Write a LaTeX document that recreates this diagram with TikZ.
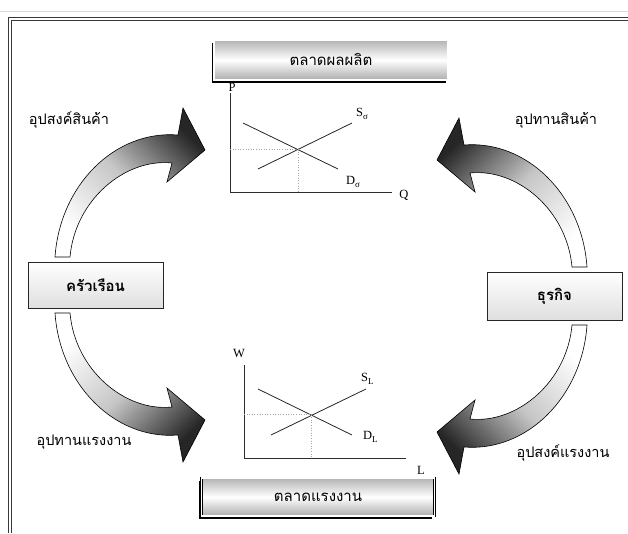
\documentclass[tikz,border=0pt]{standalone}
\usepackage{fontspec}
\setmainfont{Liberation Serif}
\newfontfamily\thai[Script=Thai]{Loma}
\usetikzlibrary{shadows}
\newcommand\bentarrow{(55,257) .. controls (60,185) and (115,130) .. (178,135) -- (183,108) -- (205,150) -- (167,182) -- (172,163) .. controls (125,158) and (75,200) .. (70,257) -- cycle}
\newcommand\subl[1]{\raisebox{-2.5pt}{\fontsize{9}{9}\selectfont #1}}
\begin{document}
\begin{tikzpicture}[x=1pt,y=-1pt,
  lbl/.style={font=\thai\fontsize{14.5}{16}\selectfont, inner sep=0pt},
  mkt/.style={font=\thai\fontsize{15}{17}\selectfont, draw=black, line width=0.7pt,
    double=white, double distance=1.2pt, top color=gray!60, bottom color=gray!65, middle color=white,
    drop shadow={shadow xshift=-2.5pt, shadow yshift=-2.5pt, fill=black, opacity=1},
    inner sep=0pt},
  side/.style={font=\thai\bfseries\fontsize{15}{17}\selectfont, draw=gray!30!black, line width=0.7pt,
    top color=white, bottom color=gray!25, minimum width=135pt, inner sep=0pt},
  arr/.style={draw=black, line width=0.6pt, top color=black!85, bottom color=white, middle color=gray!45},
  axis/.style={draw=gray!35!black, line width=1pt},
  curve/.style={draw=gray!30!black, line width=0.8pt},
  guide/.style={draw=gray!70, dotted, line width=0.6pt},
  axl/.style={font=\fontsize{12.5}{14}\selectfont, inner sep=0pt},
  frame/.style={draw=gray!45!black, line width=0.7pt}]
\useasboundingbox (0,0) rectangle (628,533);
% window frame
\draw[gray!30, line width=0.8pt] (0,11.5) -- (628,11.5);
\draw[frame] (628,17.5) -- (8.5,17.5) -- (8.5,533);
\draw[frame] (628,20.5) -- (11.5,20.5) -- (11.5,533);
% bent arrows
\shade[arr, shading angle=-45] \bentarrow;
\begin{scope}[shift={(0,570)}, yscale=-1]
  \shade[arr, shading angle=-135] \bentarrow;
\end{scope}
\begin{scope}[shift={(642,10)}, xscale=-1]
  \shade[arr, shading angle=45] \bentarrow;
\end{scope}
\begin{scope}[shift={(642,582)}, xscale=-1, yscale=-1]
  \shade[arr, shading angle=135] \bentarrow;
\end{scope}
% market boxes
\node[mkt, minimum width=234pt, minimum height=40pt] (pm) at (331,60) {ตลาดผลผลิต};
\node[mkt, minimum width=233pt, minimum height=38pt] (lm) at (318,497) {ตลาดแรงงาน};
% sectors
\node[side, minimum height=46pt] (hh) at (95.5,285) {ครัวเรือน};
\node[side, minimum height=48pt] (fi) at (554.5,296) {ธุรกิจ};
% flow labels
\node[lbl] (dg) at (69,120) {อุปสงค์สินค้า};
\node[lbl] (sg) at (556,120) {อุปทานสินค้า};
\node[lbl] (sl) at (84,442) {อุปทานแรงงาน};
\node[lbl] (dl) at (563,453) {อุปสงค์แรงงาน};
% goods market chart
\coordinate (o1) at (230,192);
\coordinate (yt1) at (230,93);
\coordinate (xe1) at (392,192);
\coordinate (s1a) at (258,169);
\coordinate (s1b) at (352,123);
\coordinate (d1a) at (243,123);
\coordinate (d1b) at (338,169);
\coordinate (e1) at (298,149.5);
\coordinate (e1y) at (230,149.5);
\coordinate (e1x) at (298,192);
\draw[axis] (yt1) -- (o1) -- (xe1);
\draw[curve] (s1a) -- (s1b);
\draw[curve] (d1a) -- (d1b);
\draw[guide] (e1y) -- (e1) -- (e1x);
\node[axl] (p1) at (232,87) {P};
\node[axl] (q1) at (404,195) {Q};
\node[axl, anchor=west] (sl1) at (356,114) {S\subl{σ}};
\node[axl, anchor=west] (dl1) at (346,182) {D\subl{σ}};
% labour market chart
\coordinate (o2) at (244,458);
\coordinate (yt2) at (244,365);
\coordinate (xe2) at (406,458);
\coordinate (s2a) at (271,435);
\coordinate (s2b) at (366,389);
\coordinate (d2a) at (258,389);
\coordinate (d2b) at (352,435);
\coordinate (e2) at (311,414);
\coordinate (e2y) at (244,414);
\coordinate (e2x) at (311,458);
\draw[axis] (yt2) -- (o2) -- (xe2);
\draw[curve] (s2a) -- (s2b);
\draw[curve] (d2a) -- (d2b);
\draw[guide] (e2y) -- (e2) -- (e2x);
\node[axl] (w2) at (239,353) {W};
\node[axl] (l2) at (421,470) {L};
\node[axl, anchor=west] (sl2) at (361,379) {S\subl{L}};
\node[axl, anchor=west] (dl2) at (363,437) {D\subl{L}};
\end{tikzpicture}
\end{document}
